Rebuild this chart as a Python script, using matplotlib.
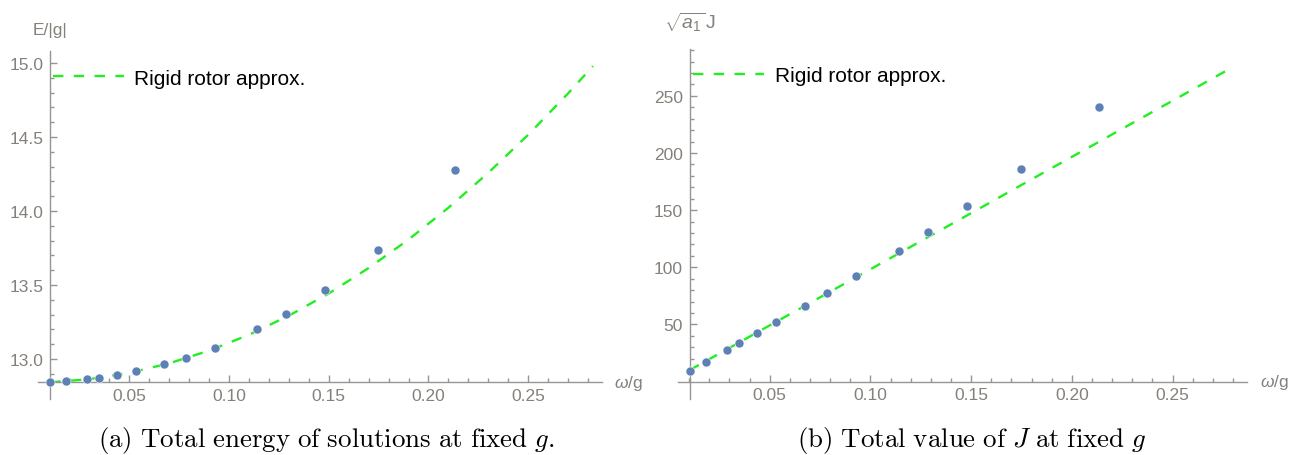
import matplotlib
matplotlib.use("Agg")
import matplotlib.pyplot as plt
import matplotlib.transforms as mtransforms

# omega/g of the computed solutions (same for both panels)
omega = [0.0103, 0.0183, 0.0288, 0.0348, 0.0438, 0.0533, 0.0675, 0.0785,
         0.0930, 0.1140, 0.1285, 0.1480, 0.1747, 0.2135]
# panel (a): total energy E/|g|
energy = [12.845, 12.851, 12.865, 12.872, 12.892, 12.919, 12.966, 13.007,
          13.074, 13.203, 13.304, 13.466, 13.736, 14.277]
# panel (b): sqrt(a1) J
ang_mom = [9.3, 17.1, 27.6, 33.8, 42.5, 52.1, 66.1, 77.5,
           92.4, 114.3, 130.9, 153.6, 186.0, 240.3]

# rigid rotor approximation
rr_omega_a = [0.0103, 0.03, 0.05, 0.07, 0.09, 0.11, 0.13, 0.15, 0.17, 0.19,
              0.21, 0.23, 0.25, 0.27, 0.2825]
rr_energy = [12.843, 12.864, 12.907, 12.971, 13.057, 13.164, 13.293, 13.443,
             13.615, 13.807, 14.022, 14.258, 14.515, 14.794, 14.979]
rr_omega_b = [0.0103, 0.03, 0.05, 0.07, 0.09, 0.11, 0.13, 0.15, 0.17, 0.19,
              0.21, 0.23, 0.25, 0.27, 0.2805]
rr_ang_mom = [10.1, 29.5, 49.2, 68.8, 88.5, 108.1, 127.8, 147.4, 167.1, 186.8,
              206.4, 226.1, 245.7, 265.4, 275.7]

x_major = [0.05, 0.10, 0.15, 0.20, 0.25]
x_minor = [0.01, 0.02, 0.03, 0.04, 0.06, 0.07, 0.08, 0.09, 0.11, 0.12, 0.13,
           0.14, 0.16, 0.17, 0.18, 0.19, 0.21, 0.22, 0.23, 0.24, 0.26, 0.27, 0.28]
ya_major = [13.0, 13.5, 14.0, 14.5, 15.0]
ya_minor = [12.9, 13.1, 13.2, 13.3, 13.4, 13.6, 13.7, 13.8, 13.9, 14.1, 14.2,
            14.3, 14.4, 14.6, 14.7, 14.8, 14.9, 15.0]
yb_major = [50, 100, 150, 200, 250]
yb_minor = [10, 20, 30, 40, 60, 70, 80, 90, 110, 120, 130, 140, 160, 170, 180,
            190, 210, 220, 230, 240, 260, 270, 280, 290]

plt.rcParams["font.family"] = ["Liberation Sans", "DejaVu Sans"]
plt.rcParams["mathtext.fontset"] = "custom"
plt.rcParams["mathtext.rm"] = "Liberation Sans"
plt.rcParams["mathtext.it"] = "Liberation Sans:italic"

AXIS_COLOR = "#959595"
LABEL_COLOR = "#85807a"
DOT_COLOR = "#5e81b5"
LINE_COLOR = "#22ee22"

fig = plt.figure(figsize=(13.12, 4.56), dpi=100)
ax_a = fig.add_axes([0.0290, 0.1228, 0.4298, 0.7632])
ax_b = fig.add_axes([0.5168, 0.1228, 0.4337, 0.7676])


def style_axes(ax, x0, y0, ymaj, ymin, ylabel, ylab_y, ylab_size):
    for s in ["top", "right"]:
        ax.spines[s].set_visible(False)
    ax.spines["left"].set_position(("data", x0))
    ax.spines["bottom"].set_position(("data", y0))
    for s in ["left", "bottom"]:
        ax.spines[s].set_color(AXIS_COLOR)
        ax.spines[s].set_linewidth(1.0)
    ax.set_xticks(x_major)
    ax.set_xticks(x_minor, minor=True)
    ax.set_yticks(ymaj)
    ax.set_yticks(ymin, minor=True)
    ax.tick_params(which="both", direction="in", color=AXIS_COLOR,
                   labelcolor=LABEL_COLOR, labelsize=12.5, width=1.0)
    ax.tick_params(which="major", length=5, pad=5)
    ax.tick_params(which="minor", length=2.8)
    ax.tick_params(axis="x", which="major", pad=4)
    # axis labels at the ends of the axes, Mathematica style
    trans_x = mtransforms.blended_transform_factory(ax.transAxes, ax.transData)
    ax.text(1.022, y0, r"$\mathit{\omega}$/g", transform=trans_x, ha="left",
            va="center", fontsize=12.5, color=LABEL_COLOR)
    trans_y = mtransforms.blended_transform_factory(ax.transData, ax.transAxes)
    ax.text(x0, ylab_y, ylabel, transform=trans_y, ha="center", va="center",
            fontsize=ylab_size, color=LABEL_COLOR)


# panel (a)
ax_a.plot(rr_omega_a, rr_energy, color=LINE_COLOR, lw=1.7,
          linestyle=(0, (4.4, 4.4)), label="Rigid rotor approx.", zorder=2)
ax_a.plot(omega, energy, "o", color=DOT_COLOR, ms=6.5, mec="white", mew=0.4,
          zorder=3)
ax_a.set_xlim(0.0042, 0.287)
ax_a.set_ylim(12.730, 15.081)
style_axes(ax_a, 0.0103, 12.843, ya_major, ya_minor, "E/|g|", 1.061, 12.5)
ax_a.legend(loc="center left", bbox_to_anchor=(0.0266, 0.922), frameon=False,
            fontsize=15, handlelength=3.4, handletextpad=0.5, borderpad=0,
            borderaxespad=0)

# panel (b)
ax_b.plot(rr_omega_b, rr_ang_mom, color=LINE_COLOR, lw=1.7,
          linestyle=(0, (4.4, 4.4)), label="Rigid rotor approx.", zorder=2)
ax_b.plot(omega, ang_mom, "o", color=DOT_COLOR, ms=6.5, mec="white", mew=0.4,
          zorder=3)
ax_b.set_xlim(0.0045, 0.287)
ax_b.set_ylim(-15.2, 291.0)
style_axes(ax_b, 0.0103, 0.0, yb_major, yb_minor, r"$\sqrt{a_1}\,$J", 1.08, 14)
ax_b.legend(loc="center left", bbox_to_anchor=(0.0269, 0.924), frameon=False,
            fontsize=15, handlelength=3.4, handletextpad=0.5, borderpad=0,
            borderaxespad=0)

for ax in [ax_a, ax_b]:
    ax.yaxis.set_major_formatter(plt.FuncFormatter(
        lambda v, p: ("%.1f" % v) if v < 20 else "%d" % v))
    ax.xaxis.set_major_formatter(plt.FormatStrFormatter("%.2f"))

fig.text(0.2489, 0.0204,
         r"$\mathrm{(a)\ Total\ energy\ of\ solutions\ at\ fixed\ }g\mathrm{.}$",
         ha="center", va="baseline", fontsize=19.4, math_fontfamily="cm")
fig.text(0.7409, 0.0204,
         r"$\mathrm{(b)\ Total\ value\ of\ }J\mathrm{\ at\ fixed\ }g$",
         ha="center", va="baseline", fontsize=19.4, math_fontfamily="cm")

fig.savefig("out.png", dpi=100)
